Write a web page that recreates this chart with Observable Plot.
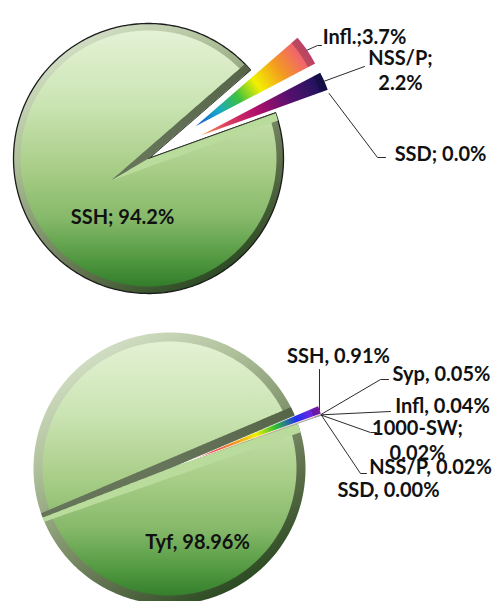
<!DOCTYPE html>
<html><head><meta charset="utf-8">
<script src="https://cdn.jsdelivr.net/npm/d3@7"></script>
<script src="https://cdn.jsdelivr.net/npm/@observablehq/plot@0.6"></script>
<style>body{margin:0;background:#fff}</style>
</head><body><div id="chart"></div>
<script>
// ---------- DATA ----------
const pie1Categories = ["Infl.", "NSS/P", "SSD", "SSH"];
const pie1Values = [3.7, 2.2, 0.0, 94.2];
const pie1Separators = [";", ";\n", "; ", "; "];

const pie2Categories = ["SSH", "Syp", "Infl", "1000-SW", "NSS/P", "SSD", "Tyf"];
const pie2Values = [0.91, 0.05, 0.04, 0.02, 0.02, 0.00, 98.96];
const pie2Separators = [", ", ", ", ", ", ";\n", ", ", ", ", ", "];

// ---------- LAYOUT ----------
const W = 495, H = 601;
const pie1LabelLayout = [
  {x: 364, y: 35, elbow: [[317, 45], [321, 45]]},
  {x: 400, y: 69, elbow: [[364, 66]]},
  {x: 440, y: 152, elbow: [[377, 157], [385, 157]]},
  {x: 122, y: 215, elbow: null}
];
const pie2LabelLayout = [
  {x: 338, y: 354, elbow: [[319, 369]]},
  {x: 441, y: 372, elbow: [[380, 379], [388, 379]]},
  {x: 442, y: 404, elbow: [[390, 411]]},
  {x: 417, y: 439, elbow: [[370, 432], [376, 432]]},
  {x: 430, y: 465, elbow: [[360, 473], [366, 473]]},
  {x: 388, y: 488, elbow: null},
  {x: 197, y: 540, elbow: null}
];
const pies = [
  {id: "p1", cats: pie1Categories, vals: pie1Values, seps: pie1Separators, dec: 1,
   cx: 148, cy: 158, r: 135, start: 49, explode: 57, bevel: 8, inset: 7, outline: true,
   labels: pie1LabelLayout,
   smallFills: ["grad", "grad", "#222"],
   stops: [
     [[0, "#1a4fd0"], [0.2, "#18a8c8"], [0.38, "#3cc040"], [0.55, "#f2f000"], [0.75, "#f39a20"], [1, "#f0508a"]],
     [[0, "#f0a040"], [0.2, "#e04060"], [0.45, "#b0106a"], [0.7, "#5a1070"], [1, "#14145a"]],
     null]},
  {id: "p2", cats: pie2Categories, vals: pie2Values, seps: pie2Separators, dec: 2,
   cx: 169, cy: 468, r: 136, start: 67, explode: 25, bevel: 9, inset: 9, outline: false,
   labels: pie2LabelLayout,
   smallFills: ["grad", "#d03070", "#f0a020", "#30b040", "#3050e0", "#222"],
   stops: [
     [[0, "#ffe0f0"], [0.15, "#f04050"], [0.35, "#f0a020"], [0.5, "#f0f000"], [0.65, "#30c030"], [0.82, "#2030f0"], [1, "#a020d0"]],
     null, null, null, null, null]}
];

// ---------- GEOMETRY ----------
const rad = d => d * Math.PI / 180;
const pt = (cx, cy, r, a) => [cx + r * Math.sin(a), cy - r * Math.cos(a)];
function arcPts(cx, cy, r, a0, a1) {
  const n = Math.max(2, Math.ceil(Math.abs(a1 - a0) / rad(1)));
  return d3.range(n + 1).map(i => pt(cx, cy, r, a0 + (a1 - a0) * i / n));
}
function densify(poly, step = 1.5) {
  const out = [];
  for (let i = 0; i < poly.length; i++) {
    const p = poly[i], q = poly[(i + 1) % poly.length];
    const n = Math.max(1, Math.ceil(Math.hypot(q[0] - p[0], q[1] - p[1]) / step));
    for (let k = 0; k < n; k++) out.push([p[0] + (q[0] - p[0]) * k / n, p[1] + (q[1] - p[1]) * k / n]);
  }
  return out;
}
function clamp(poly, cx, cy, r) {
  return poly.map(([x, y]) => {
    const dx = x - cx, dy = y - cy, d = Math.hypot(dx, dy);
    return d > r ? [cx + dx * r / d, cy + dy * r / d] : [x, y];
  });
}
const toObj = poly => poly.map(([x, y]) => ({x, y}));
const poly = (points, opts) => Plot.line(toObj(points), {x: "x", y: "y", curve: "linear-closed", stroke: "none", ...opts});

const marks = [];
const gradients = [];

for (const P of pies) {
  const {cx, cy, r} = P;
  const arcs = d3.pie().sort(null).value(d => d).startAngle(rad(P.start)).endAngle(rad(P.start) + 2 * Math.PI)(P.vals);
  const big = d3.maxIndex(P.vals);
  const A = arcs[big];
  const a0 = A.startAngle, a1 = A.endAngle, am = (a0 + a1) / 2, span = a1 - a0;
  const d = P.bevel;
  marks.push(poly([[cx, cy], ...arcPts(cx, cy, r, a0, a1)], {fill: `url(#${P.id}-rim)`, stroke: P.outline ? "#1b1b1b" : "none", strokeWidth: 1.3}));
  marks.push(poly([[cx, cy], ...arcPts(cx, cy, r - P.inset, a0, a1)], {fill: `url(#${P.id}-face)`}));
  const u1 = [Math.sin(a0), -Math.cos(a0)], n1 = [Math.cos(a0), Math.sin(a0)];
  const u2 = [Math.sin(a1), -Math.cos(a1)], n2 = [-Math.cos(a1), -Math.sin(a1)];
  const b = [Math.sin(am), -Math.cos(am)];
  const mLen = d / Math.sin(span / 2);
  const M = [cx + b[0] * mLen, cy + b[1] * mLen];
  const t = Math.sqrt(r * r - d * d);
  const s1 = [M, [cx, cy], [cx + u1[0] * r, cy + u1[1] * r], [cx + n1[0] * d + u1[0] * t, cy + n1[1] * d + u1[1] * t]];
  const s2 = [M, [cx, cy], [cx + u2[0] * r, cy + u2[1] * r], [cx + n2[0] * d + u2[0] * t, cy + n2[1] * d + u2[1] * t]];
  marks.push(poly(clamp(densify(s1), cx, cy, r), {fill: "#b9dc9c"}));
  marks.push(poly(clamp(densify(s2), cx, cy, r), {fill: `url(#${P.id}-dark)`}));
  if (P.outline) marks.push(Plot.line(toObj([[cx, cy], [cx + u1[0] * r, cy + u1[1] * r]]), {x: "x", y: "y", stroke: "#1b1b1b", strokeWidth: 0.8}));

  gradients.push({id: `${P.id}-rim`, x1: cx - 0.6 * r, y1: cy - r, x2: cx + 0.6 * r, y2: cy + r,
    stops: [[0, "#dbe6cf"], [0.3, "#adbf98"], [0.55, "#7f916a"], [0.72, "#5d6f4b"], [1, "#1c3f16"]]});
  gradients.push({id: `${P.id}-face`, x1: cx, y1: cy - r, x2: cx, y2: cy + r,
    stops: [[0, "#e6f3d8"], [0.3, "#cbe4b3"], [0.55, "#a6cc85"], [0.72, "#86b96a"], [0.88, "#4f973e"], [1, "#2b7526"]]});
  gradients.push({id: `${P.id}-dark`, x1: cx, y1: cy, x2: cx + u2[0] * r, y2: cy + u2[1] * r,
    stops: [[0, "#66755a"], [1, "#566548"]]});

  arcs.forEach((s, i) => {
    if (i === big) return;
    const mid = (s.startAngle + s.endAngle) / 2;
    const ox = cx + P.explode * Math.sin(mid), oy = cy - P.explode * Math.cos(mid);
    s.ox = ox; s.oy = oy; s.mid = mid;
    if (s.endAngle - s.startAngle <= 0) return;
    let fill = P.smallFills[i];
    if (fill === "grad") {
      const tip = pt(ox, oy, r, mid);
      gradients.push({id: `${P.id}-s${i}`, x1: ox, y1: oy, x2: tip[0], y2: tip[1], stops: P.stops[i]});
      fill = `url(#${P.id}-s${i})`;
    }
    marks.push(poly([[ox, oy], ...arcPts(ox, oy, r, s.startAngle, s.endAngle)], {fill}));
    marks.push(poly([...arcPts(ox, oy, r, s.startAngle, s.endAngle), ...arcPts(ox, oy, r - 8, s.endAngle, s.startAngle)], {fill: "#000", fillOpacity: 0.22}));
  });

  arcs.forEach((s, i) => {
    const L = P.labels[i];
    if (!L.elbow) return;
    const start = pt(cx, cy, r + P.explode, s.mid);
    marks.push(Plot.line(toObj([start, ...L.elbow]), {x: "x", y: "y", stroke: "#2a2a2a", strokeWidth: 1, curve: "linear"}));
  });

  const labelData = P.cats.map((c, i) => ({
    x: P.labels[i].x, y: P.labels[i].y,
    text: `${c}${P.seps[i]}${P.vals[i].toFixed(P.dec)}%`
  }));
  marks.push(Plot.text(labelData, {x: "x", y: "y", text: "text", fontSize: 20, fontWeight: "bold",
    fontFamily: "Lato", fill: "#111", lineHeight: 1.25, textAnchor: "middle"}));
}

const svg = Plot.plot({
  width: W, height: H, margin: 0,
  x: {domain: [0, W], range: [0, W], axis: null},
  y: {domain: [0, H], range: [0, H], axis: null},
  style: {background: "white", overflow: "visible"},
  marks
});

const defs = d3.select(svg).insert("defs", ":first-child");
for (const g of gradients) {
  const lg = defs.append("linearGradient").attr("id", g.id).attr("gradientUnits", "userSpaceOnUse")
    .attr("x1", g.x1).attr("y1", g.y1).attr("x2", g.x2).attr("y2", g.y2);
  for (const [o, c] of g.stops) lg.append("stop").attr("offset", o).attr("stop-color", c);
}
document.getElementById("chart").appendChild(svg);
</script>
</body></html>
